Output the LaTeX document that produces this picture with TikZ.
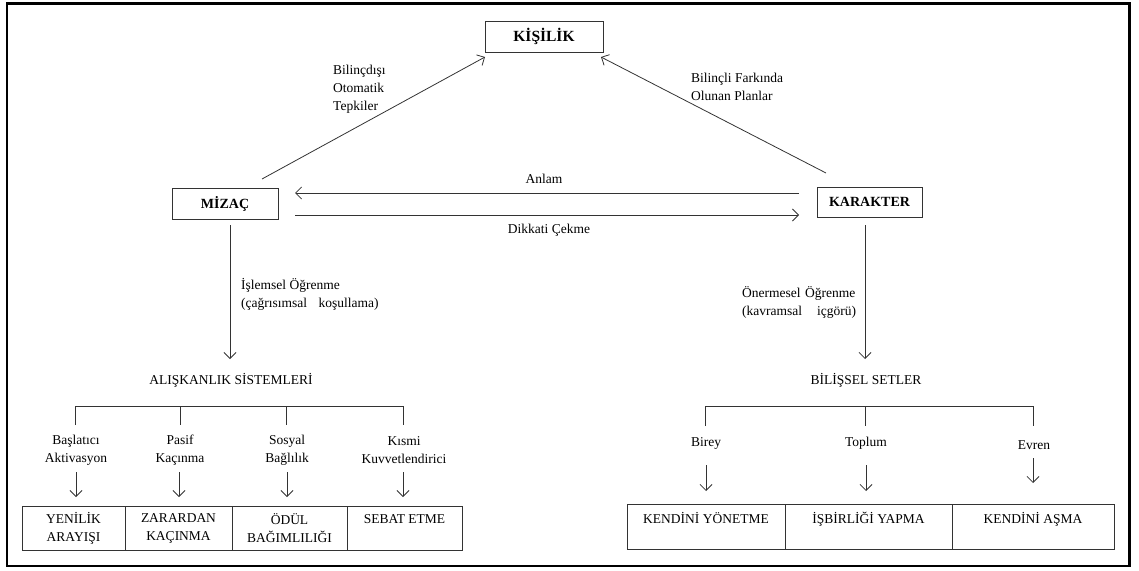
\documentclass[tikz,border=0pt]{standalone}
\usepackage{fontspec}
\setmainfont{Liberation Serif}
\usetikzlibrary{arrows.meta}
\begin{document}
\begin{tikzpicture}[x=1pt,y=-1pt,
  box/.style={draw=black!80, line width=0.8pt, inner sep=0pt, font=\bfseries\fontsize{14}{17}\selectfont},
  cell/.style={draw=black!80, line width=0.8pt, inner sep=0pt, align=center, font=\fontsize{13.5}{18}\selectfont},
  lbl/.style={inner sep=0pt, align=center, font=\fontsize{13.5}{18}\selectfont},
  conn/.style={draw=black!80, line width=0.8pt},
  arr/.style={conn, -{Straight Barb[length=6pt,width=12pt]}}]
\useasboundingbox (0,0) rectangle (1139,570);
\draw[line width=2.6pt] (7,3.5) rectangle (1129.5,566);

% main boxes
\node[box, minimum width=118, minimum height=31, font=\bfseries\fontsize{15.5}{18}\selectfont] (kisilik) at (544,36.5) {KİŞİLİK};
\node[box, minimum width=106, minimum height=31] (mizac) at (225,203.5) {MİZAÇ};
\node[box, minimum width=105, minimum height=30] (karakter) at (869.5,202) {KARAKTER};

% upper arrows
\coordinate (m1) at (262,179);
\coordinate (k1) at (485,57);
\draw[arr] (m1) -- (k1);
\coordinate (c1) at (826,173);
\coordinate (k2) at (601,57);
\draw[arr] (c1) -- (k2);
\node[lbl, align=left, anchor=west] (t1) at (333,89) {Bilinçdışı\\Otomatik\\Tepkiler};
\node[lbl, align=left, anchor=west] (t2) at (691,86.5) {Bilinçli Farkında\\Olunan Planlar};

\coordinate (a1) at (799,193);
\coordinate (a2) at (295,193);
\draw[arr] (a1) -- (a2);
\coordinate (d1) at (295,215);
\coordinate (d2) at (799,215);
\draw[arr] (d1) -- (d2);
\node[lbl] (anlam) at (544,179) {Anlam};
\node[lbl] (dikkat) at (549,230) {Dikkati Çekme};

% left branch
\node[lbl] (alis) at (231,380) {ALIŞKANLIK SİSTEMLERİ};
\coordinate (l0) at (230,225);
\coordinate (l1) at (230,359);
\draw[arr] (l0) -- (l1);
\node[lbl, align=left, anchor=west] (t3) at (241,294) {İşlemsel Öğrenme\\(çağrısımsal\hspace{8pt} koşullama)};

\draw[conn] (75,425) -- (75,406) -- (403,406) -- (403,425);
\draw[conn] (180,406) -- (180,425);
\draw[conn] (286,406) -- (286,425);

\node[lbl] (s1) at (76,450) {Başlatıcı\\Aktivasyon};
\node[lbl] (s2) at (180,450) {Pasif\\Kaçınma};
\node[lbl] (s3) at (287,450) {Sosyal\\Bağlılık};
\node[lbl] (s4) at (404,450) {Kısmi\\Kuvvetlendirici};

\node[cell, minimum width=103, minimum height=44] (y1) at (73.5,528) {YENİLİK\\ARAYIŞI};
\node[cell, minimum width=107, minimum height=44] (y2) at (178.5,528) {ZARARDAN\\KAÇINMA};
\node[cell, minimum width=115, minimum height=44] (y3) at (289.5,528) {ÖDÜL\\BAĞIMLILIĞI};
\node[cell, minimum width=115, minimum height=44] (y4) at (404.5,528) {SEBAT ETME\\\phantom{X}};

\foreach \x in {76,179,287,403}{
  \draw[arr] (\x,472) -- (\x,497);
}

% right branch
\node[lbl] (bil) at (866,380) {BİLİŞSEL SETLER};
\coordinate (r0) at (865,225);
\coordinate (r1) at (865,359);
\draw[arr] (r0) -- (r1);
\node[lbl, align=left, anchor=west, text width=114pt] (t4) at (742,302.5) {Önermesel Öğrenme\\(kavramsal\hfill içgörü)};

\draw[conn] (705,426) -- (705,406) -- (1033,406) -- (1033,426);
\draw[conn] (865,406) -- (865,426);

\node[lbl] (u1) at (706,443) {Birey};
\node[lbl] (u2) at (866,443) {Toplum};
\node[lbl] (u3) at (1034,445) {Evren};

\draw[arr] (706,465) -- (706,491);
\draw[arr] (866,465) -- (866,491);
\draw[arr] (1033,458) -- (1033,483);

\node[cell, minimum width=158, minimum height=45] (z1) at (706,526.5) {KENDİNİ YÖNETME\\\phantom{X}};
\node[cell, minimum width=167, minimum height=45] (z2) at (868.5,526.5) {İŞBİRLİĞİ YAPMA\\\phantom{X}};
\node[cell, minimum width=162, minimum height=45] (z3) at (1033,526.5) {KENDİNİ AŞMA\\\phantom{X}};
\end{tikzpicture}
\end{document}
